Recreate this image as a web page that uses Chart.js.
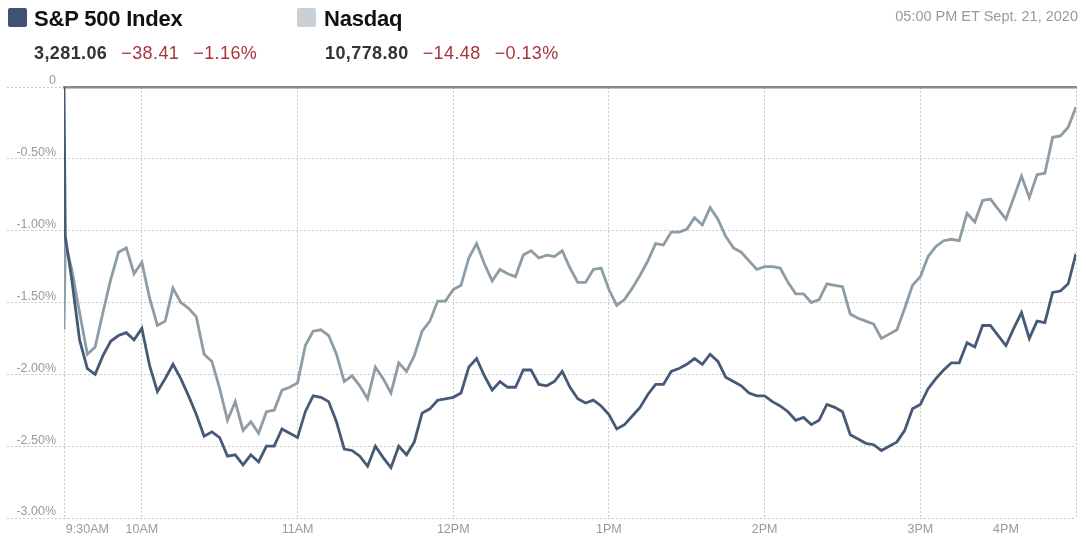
<!DOCTYPE html>
<html lang="en">
<head>
  <meta charset="UTF-8">
  <title>S&amp;P 500 vs Nasdaq</title>
  <script src="https://cdn.jsdelivr.net/npm/chart.js"></script>
  <style>
    body {
      margin: 0;
      background: #fff;
      font-family: 'Liberation Sans', Arial, sans-serif;
    }
    .wrap {
      position: relative;
      width: 1086px;
      height: 543px;
      overflow: hidden;
    }
    canvas {
      position: absolute;
      left: 0;
      top: 0;
    }
    .key {
      position: absolute;
      top: 8px;
      width: 19px;
      height: 19px;
      border-radius: 2px;
    }
    .name {
      position: absolute;
      top: 6px;
      font-size: 22px;
      font-weight: bold;
      color: #111;
      letter-spacing: -0.2px;
    }
    .num {
      position: absolute;
      top: 43px;
      font-size: 18px;
      white-space: nowrap;
    }
    .num b { color: #333; margin-right: 14px; letter-spacing: 0.4px; }
    .num span { color: #a8353a; margin-right: 14px; letter-spacing: 0.4px; }
    .stamp {
      position: absolute;
      top: 8px;
      right: 8px;
      font-size: 14.5px;
      color: #9a9a9a;
    }
  </style>
</head>
<body>
  <div class="wrap">
    <canvas id="marketChart" width="1086" height="543"></canvas>

    <!-- kop met legenda en slotkoersen -->
    <div class="key" style="left:8px; background:#3f5272;"></div>
    <div class="name" style="left:34px;">S&amp;P 500 Index</div>
    <div class="num" style="left:34px;"><b>3,281.06</b><span>−38.41</span><span>−1.16%</span></div>

    <div class="key" style="left:297px; background:#c9d1d6;"></div>
    <div class="name" style="left:324px;">Nasdaq</div>
    <div class="num" style="left:325px;"><b>10,778.80</b><span>−14.48</span><span>−0.13%</span></div>

    <div class="stamp">05:00 PM ET Sept. 21, 2020</div>
  </div>

  <script>
    // minutes after 9:30 AM
    const minutes = [
      0, 0.5, 3, 6, 9, 12, 15, 18, 21, 24, 27, 30, 33, 36, 39, 42, 45, 48, 51, 54, 57,
      60, 63, 66, 69, 72, 75, 78, 81, 84, 87, 90, 93, 96, 99, 102, 105, 108, 111, 114, 117,
      120, 123, 126, 129, 132, 135, 138, 141, 144, 147, 150, 153, 156, 159, 162, 165, 168, 171, 174, 177,
      180, 183, 186, 189, 192, 195, 198, 201, 204, 207, 210, 213, 216, 219, 222, 225, 228, 231, 234, 237,
      240, 243, 246, 249, 252, 255, 258, 261, 264, 267, 270, 273, 276, 279, 282, 285, 288, 291, 294, 297,
      300, 303, 306, 309, 312, 315, 318, 321, 324, 327, 330, 333, 336, 339, 342, 345, 348, 351, 354, 357,
      360, 363, 366, 369, 372, 375, 378, 381, 384, 387, 390
    ];

    // % change vs previous close
    const spChange = [
      0, -1.04, -1.34, -1.76, -1.96, -2.00, -1.87, -1.77, -1.73, -1.71, -1.76, -1.68, -1.94, -2.12, -2.03, -1.93, -2.03, -2.15, -2.28, -2.43, -2.40,
      -2.44, -2.57, -2.56, -2.63, -2.56, -2.61, -2.50, -2.50, -2.38, -2.41, -2.44, -2.26, -2.15, -2.16, -2.19, -2.33, -2.52, -2.53, -2.57, -2.64,
      -2.50, -2.58, -2.65, -2.50, -2.56, -2.47, -2.27, -2.24, -2.18, -2.17, -2.16, -2.13, -1.95, -1.89, -2.01, -2.11, -2.05, -2.09, -2.09, -1.97,
      -1.97, -2.07, -2.08, -2.05, -1.98, -2.09, -2.17, -2.20, -2.18, -2.22, -2.28, -2.38, -2.35, -2.29, -2.23, -2.14, -2.07, -2.07, -1.98, -1.96,
      -1.93, -1.89, -1.93, -1.86, -1.91, -2.02, -2.05, -2.08, -2.13, -2.15, -2.15, -2.19, -2.22, -2.26, -2.32, -2.30, -2.35, -2.32, -2.21, -2.23,
      -2.26, -2.42, -2.45, -2.48, -2.49, -2.53, -2.50, -2.47, -2.39, -2.24, -2.21, -2.10, -2.03, -1.97, -1.92, -1.92, -1.78, -1.81, -1.66, -1.66,
      -1.73, -1.80, -1.68, -1.57, -1.75, -1.63, -1.64, -1.43, -1.42, -1.37, -1.16
    ];
    const nasdaqChange = [
      -1.69, -1.08, -1.27, -1.57, -1.86, -1.81, -1.57, -1.34, -1.15, -1.12, -1.30, -1.22, -1.47, -1.66, -1.63, -1.40, -1.50, -1.54, -1.60, -1.86, -1.91,
      -2.10, -2.32, -2.19, -2.39, -2.33, -2.41, -2.26, -2.25, -2.11, -2.09, -2.06, -1.80, -1.70, -1.69, -1.73, -1.86, -2.05, -2.01, -2.08, -2.17,
      -1.95, -2.03, -2.13, -1.92, -1.98, -1.87, -1.70, -1.63, -1.49, -1.49, -1.41, -1.38, -1.19, -1.09, -1.23, -1.35, -1.27, -1.30, -1.32, -1.17,
      -1.14, -1.19, -1.17, -1.18, -1.14, -1.26, -1.36, -1.36, -1.27, -1.26, -1.41, -1.52, -1.48, -1.40, -1.31, -1.21, -1.09, -1.10, -1.01, -1.01,
      -0.99, -0.91, -0.96, -0.84, -0.92, -1.04, -1.12, -1.15, -1.21, -1.27, -1.25, -1.25, -1.26, -1.36, -1.44, -1.44, -1.50, -1.48, -1.37, -1.38,
      -1.39, -1.58, -1.61, -1.63, -1.65, -1.75, -1.72, -1.69, -1.54, -1.38, -1.32, -1.18, -1.11, -1.07, -1.06, -1.07, -0.88, -0.94, -0.79, -0.78,
      -0.85, -0.92, -0.77, -0.62, -0.77, -0.61, -0.60, -0.35, -0.34, -0.28, -0.14
    ];

    // x-as: waarde, label, wel/geen gridlijn
    const xTickValues = [0, 9, 30, 90, 150, 210, 270, 330, 363, 390];
    const xTickLabels = ['', '9:30AM', '10AM', '11AM', '12PM', '1PM', '2PM', '3PM', '4PM', ''];
    const xTickGrid   = [true, false, true, true, true, true, true, true, false, true];

    const gridColor = '#c9c9c9';
    const labelColor = '#9a9a9a';
    const tickFont = { family: "'Liberation Sans', Arial, sans-serif", size: 12.5 };

    const toPoints = vals => vals.map((v, i) => ({ x: minutes[i], y: v }));

    const ctx = document.getElementById('marketChart').getContext('2d');
    new Chart(ctx, {
      type: 'line',
      data: {
        datasets: [
          {
            label: 'S&P 500 Index',
            data: toPoints(spChange),
            borderColor: '#465975',
            borderWidth: 2.8,
            pointRadius: 0,
            tension: 0,
            fill: false
          },
          {
            label: 'Nasdaq',
            data: toPoints(nasdaqChange),
            borderColor: '#8d9ca5',
            borderWidth: 2.8,
            pointRadius: 0,
            tension: 0,
            fill: false
          }
        ]
      },
      options: {
        responsive: false,
        animation: false,
        layout: { padding: { top: 87, right: 10, left: 0, bottom: 0 } },
        plugins: {
          legend: { display: false },
          tooltip: { enabled: false }
        },
        scales: {
          x: {
            type: 'linear',
            min: 0,
            max: 390,
            afterBuildTicks: scale => {
              scale.ticks = xTickValues.map(v => ({ value: v }));
            },
            afterFit: scale => { scale.height = 25; },
            ticks: {
              autoSkip: false,
              maxRotation: 0,
              padding: 4,
              color: labelColor,
              font: tickFont,
              callback: (value, index) => xTickLabels[index]
            },
            grid: {
              drawTicks: false,
              color: c => xTickGrid[c.index] ? gridColor : 'rgba(0,0,0,0)',
              lineWidth: 1
            },
            border: { display: false, dash: [2, 2] }
          },
          zeroLine: {
            type: 'linear',
            position: 'top',
            min: 0,
            max: 390,
            afterFit: scale => { scale.height = 0; },
            ticks: { display: false },
            grid: { display: false, drawTicks: false },
            border: { display: true, color: '#8a8a8a', width: 2.5 }
          },
          y: {
            min: -3,
            max: 0,
            afterFit: scale => { scale.width = 64; },
            ticks: {
              stepSize: 0.5,
              padding: -49,
              labelOffset: -6,
              color: labelColor,
              font: tickFont,
              callback: v => v === 0 ? '0' : v.toFixed(2) + '%'
            },
            grid: {
              color: gridColor,
              lineWidth: 1,
              tickLength: 57,
              tickColor: gridColor,
              tickBorderDash: [2, 2]
            },
            border: { display: false, dash: [2, 2] }
          }
        }
      }
    });
  </script>
</body>
</html>
